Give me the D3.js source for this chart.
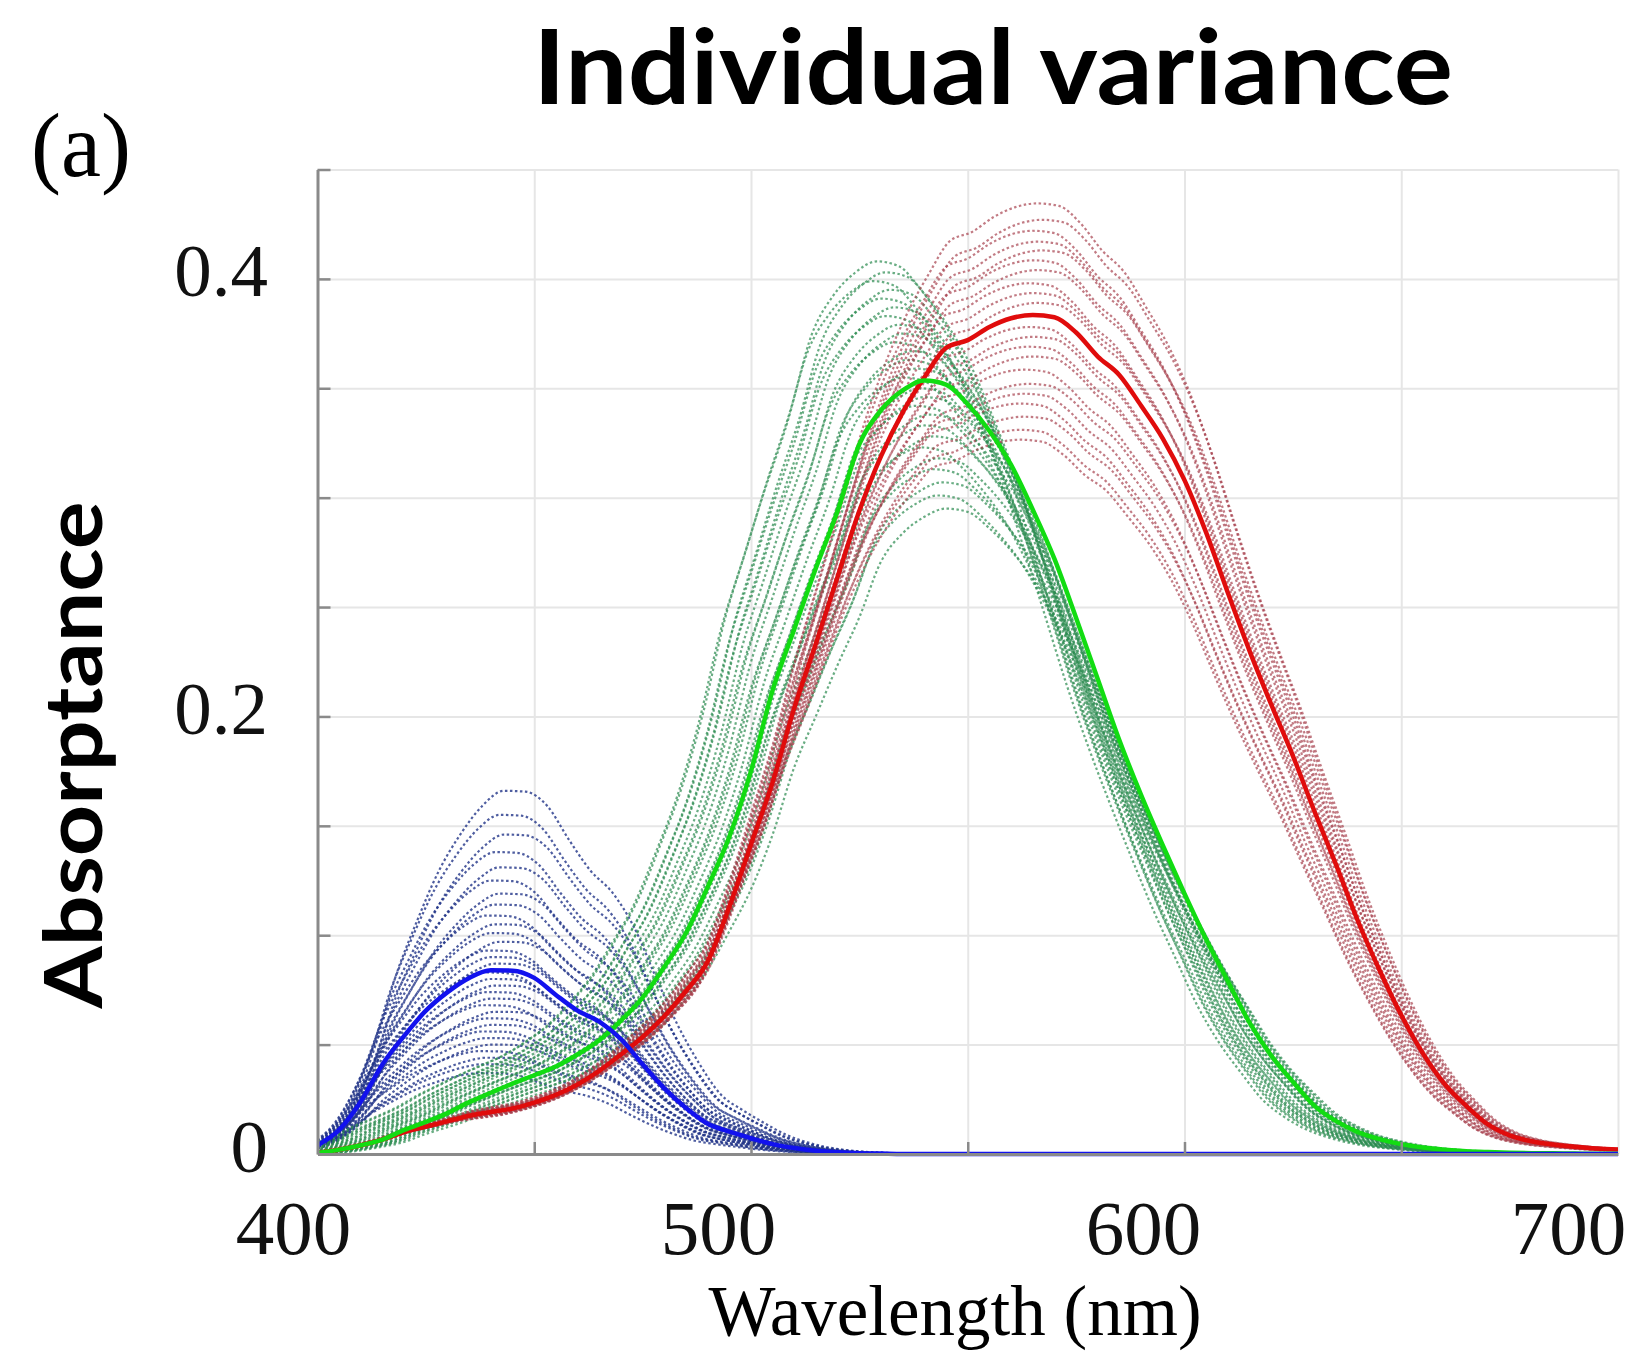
<!DOCTYPE html>
<html>
<head>
<meta charset="utf-8">
<script src="https://cdn.jsdelivr.net/npm/d3@7"></script>
<style>
  body { margin: 0; background: #fff; }
  svg { display: block; }
</style>
</head>
<body>
<svg id="chart" width="1639" height="1352"></svg>
<script>
/* eslint-env browser */
// wavelength grid (nm) of the mean curves
const wavelengths = [400, 405, 410, 415, 420, 425, 430, 435, 440, 445, 450, 455, 460, 465, 470,
  475, 480, 485, 490, 495, 500, 505, 510, 515, 520, 525, 530, 535, 540, 545, 550, 555, 560, 565,
  570, 575, 580, 585, 590, 595, 600, 605, 610, 615, 620, 625, 630, 635, 640, 645, 650, 655, 660,
  665, 670, 675, 680, 685, 690, 695, 700];

// mean absorptance of the three cone classes
const blueMean = [0.004, 0.011, 0.024, 0.041, 0.054, 0.0655, 0.074, 0.0805, 0.084, 0.0838, 0.0805,
  0.0727, 0.0655, 0.0605, 0.0525, 0.041, 0.030, 0.021, 0.0138, 0.0102, 0.0072, 0.0045, 0.0027,
  0.0015, 0.0008, 0.0004, 0.0002, 0, 0, 0, 0, 0, 0, 0, 0, 0, 0, 0, 0, 0, 0, 0, 0, 0, 0, 0, 0, 0, 0,
  0, 0, 0, 0, 0, 0, 0, 0, 0, 0, 0, 0];
const greenMean = [0.0005, 0.002, 0.004, 0.0066, 0.011, 0.0147, 0.0187, 0.0237, 0.028, 0.0322,
  0.036, 0.040, 0.0455, 0.052, 0.061, 0.0715, 0.0855, 0.101, 0.122, 0.145, 0.175, 0.212, 0.240,
  0.268, 0.294, 0.3245, 0.340, 0.349, 0.3535, 0.3517, 0.3427, 0.3305, 0.315, 0.2945, 0.272, 0.245,
  0.217, 0.189, 0.164, 0.141, 0.119, 0.098, 0.079, 0.060, 0.045, 0.033, 0.022, 0.015, 0.010,
  0.0068, 0.0045, 0.003, 0.002, 0.0013, 0.0009, 0.0006, 0.0004, 0.0003, 0.0002, 0.0001, 0.0001];
const redMean = [0.0005, 0.002, 0.004, 0.0066, 0.010, 0.0125, 0.015, 0.0175, 0.0192, 0.0208,
  0.0235, 0.027, 0.0318, 0.038, 0.0455, 0.0535, 0.063, 0.0745, 0.088, 0.113, 0.1415, 0.170, 0.204,
  0.2335, 0.264, 0.294, 0.319, 0.339, 0.355, 0.3685, 0.372, 0.378, 0.382, 0.3835, 0.3825, 0.3755,
  0.3645, 0.356, 0.342, 0.327, 0.308, 0.284, 0.2565, 0.230, 0.2055, 0.182, 0.1565, 0.132, 0.1065,
  0.084, 0.0635, 0.046, 0.032, 0.022, 0.0135, 0.0085, 0.0058, 0.0043, 0.0033, 0.0025, 0.002];

// individual observers: peak absorptance and lambda-max offset (nm)
const bluePeaks = [0.166, 0.155, 0.146, 0.138, 0.131, 0.125, 0.119, 0.114, 0.109, 0.105, 0.101,
  0.097, 0.093, 0.090, 0.087, 0.083, 0.080, 0.077, 0.074, 0.071, 0.068, 0.065, 0.062, 0.059, 0.056,
  0.053, 0.050, 0.047, 0.044, 0.041, 0.037];
const blueShifts = [3, 2, 3, 1, 2, 0, 2, 1, -1, 1, 0, 2, -1, 0, 1, -2, 0, 1, -1, 0, -2, 1, -1, 0,
  -2, -1, 0, -3, -1, -2, -3];
const greenPeaks = [0.408, 0.403, 0.399, 0.395, 0.391, 0.387, 0.383, 0.379, 0.375, 0.371, 0.367,
  0.363, 0.359, 0.355, 0.350, 0.346, 0.342, 0.338, 0.333, 0.328, 0.323, 0.318, 0.313, 0.307,
  0.301, 0.295];
const greenShifts = [-11, -9, -12, -8, -10, -7, -9, -6, -5, -7, -3, -4, -2, -5, -1, 0, -2, 1, 0, 2,
  -1, 3, 2, 4, 3, 5];
const redPeaks = [0.4345, 0.427, 0.422, 0.417, 0.413, 0.4085, 0.404, 0.398, 0.3935, 0.389, 0.378,
  0.3735, 0.369, 0.3645, 0.3585, 0.352, 0.3475, 0.343, 0.337, 0.331, 0.3265];
const redShifts = [1, 2, 0, 1, 2, 0, 1, -1, 0, 1, -1, 0, -1, 0, -2, -1, -2, -3, -2, -3, -3];

// axes
const gridX = [450, 500, 550, 600, 650, 700];
const gridY = [0.05, 0.1, 0.15, 0.2, 0.25, 0.3, 0.35, 0.4, 0.45];
const xTickLabels = [400, 500, 600, 700];
const yTickLabels = [0, 0.2, 0.4];

const svg = d3.select('#chart');
svg.append('rect').attr('width', 1639).attr('height', 1352).attr('fill', '#fff');

const x = d3.scaleLinear().domain([400, 700]).range([317.5, 1618]);
const y = d3.scaleLinear().domain([0, 0.45]).range([1154, 169.5]);
// the tick numbers sit a little left of their ticks in the figure
const xLabel = d3.scaleLinear().domain([400, 700]).range([293, 1568]);

const plotW = x(700) - x(400);
const plotH = y(0) - y(0.45);

/**
 * Grid
 */
const gridH = svg.append('g')
  .attr('transform', `translate(${x(400)},0)`)
  .call(d3.axisLeft(y).tickValues(gridY).tickSize(-plotW).tickFormat(''));
const gridV = svg.append('g')
  .attr('transform', `translate(0,${y(0)})`)
  .call(d3.axisBottom(x).tickValues(gridX).tickSize(-plotH).tickFormat(''));
[gridH, gridV].forEach((g) => {
  g.select('.domain').remove();
  g.selectAll('line').attr('stroke', '#e6e6e6').attr('stroke-width', 2);
});

/**
 * Curves
 */
svg.append('clipPath').attr('id', 'plot')
  .append('rect').attr('x', x(400)).attr('y', y(0.45) - 10)
  .attr('width', plotW).attr('height', plotH + 16);

const line = d3.line()
  .x(d => x(d[0]))
  .y(d => y(d[1]))
  .curve(d3.curveMonotoneX);

const meanPeak = m => d3.max(m);
const observer = (mean, peak, shift) => {
  const k = peak / meanPeak(mean);
  return wavelengths.map((w, i) => [w + shift, mean[i] * k]);
};

const curves = svg.append('g').attr('clip-path', 'url(#plot)');

const drawCloud = (mean, peaks, shifts, colour, opacity) => {
  curves.append('g')
    .selectAll('path')
    .data(peaks.map((p, i) => observer(mean, p, shifts[i])))
    .enter()
    .append('path')
    .attr('d', line)
    .attr('fill', 'none')
    .attr('stroke', colour)
    .attr('stroke-opacity', opacity)
    .attr('stroke-width', 2.2)
    .attr('stroke-dasharray', '2.5 2.5');
};

drawCloud(blueMean, bluePeaks, blueShifts, '#223488', 0.8);
drawCloud(greenMean, greenPeaks, greenShifts, '#2a8a4e', 0.7);
drawCloud(redMean, redPeaks, redShifts, '#a53c4a', 0.68);

/**
 * Axes lines and ticks
 */
const axisLeft = svg.append('g')
  .attr('transform', `translate(${x(400)},0)`)
  .call(d3.axisLeft(y).tickValues(gridY).tickSize(-13).tickSizeOuter(0).tickFormat(''));
const axisBottom = svg.append('g')
  .attr('transform', `translate(0,${y(0)})`)
  .call(d3.axisBottom(x).tickValues([450, 500, 550, 600, 650]).tickSize(-12).tickSizeOuter(0)
    .tickFormat(''));
[axisLeft, axisBottom].forEach((g) => {
  g.select('.domain').attr('stroke', '#8a8a8a').attr('stroke-width', 3);
  g.selectAll('line').attr('stroke', '#8a8a8a').attr('stroke-width', 2.5);
});

[[redMean, '#e00c0c'], [greenMean, '#12dc12'], [blueMean, '#1212ee']].forEach(([m, c]) => {
  curves.append('path')
    .datum(wavelengths.map((w, i) => [w, m[i]]))
    .attr('d', line)
    .attr('fill', 'none')
    .attr('stroke', c)
    .attr('stroke-width', 4.5);
});

/**
 * Tick labels
 */
const serif = '"Liberation Serif", "DejaVu Serif", serif';
const yLab = svg.append('g')
  .attr('transform', 'translate(268,0)')
  .call(d3.axisLeft(y).tickValues(yTickLabels).tickSize(0).tickPadding(0)
    .tickFormat(d => (d === 0 ? '0' : d3.format('.1f')(d))));
yLab.select('.domain').remove();
yLab.selectAll('text')
  .attr('dy', 17)
  .attr('font-family', serif)
  .attr('font-size', 75)
  .attr('fill', '#111');

const xLab = svg.append('g')
  .attr('transform', 'translate(0,1254)')
  .call(d3.axisBottom(xLabel).tickValues(xTickLabels).tickSize(0).tickPadding(0));
xLab.select('.domain').remove();
xLab.selectAll('text')
  .attr('y', 0)
  .attr('dy', 0)
  .attr('font-family', serif)
  .attr('font-size', 77)
  .attr('fill', '#111');

/**
 * Titles
 */
svg.append('text')
  .attr('x', 993).attr('y', 104)
  .attr('text-anchor', 'middle')
  .attr('font-family', 'Lato, "Noto Sans", sans-serif')
  .attr('font-weight', 700)
  .attr('font-size', 104)
  .attr('textLength', 920)
  .attr('lengthAdjust', 'spacingAndGlyphs')
  .text('Individual variance');

svg.append('text')
  .attr('x', 31).attr('y', 176)
  .attr('font-family', serif)
  .attr('font-size', 90)
  .text('(a)');

svg.append('text')
  .attr('transform', 'translate(102,755) rotate(-90)')
  .attr('text-anchor', 'middle')
  .attr('font-family', 'Lato, "Noto Sans", sans-serif')
  .attr('font-weight', 700)
  .attr('font-size', 80)
  .attr('textLength', 507)
  .attr('lengthAdjust', 'spacingAndGlyphs')
  .text('Absorptance');

svg.append('text')
  .attr('x', 955).attr('y', 1335)
  .attr('text-anchor', 'middle')
  .attr('font-family', serif)
  .attr('font-size', 71)
  .text('Wavelength (nm)');
</script>
</body>
</html>
